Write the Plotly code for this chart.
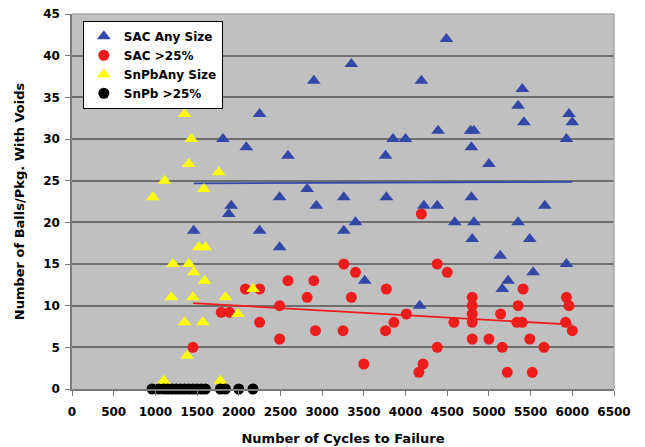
import numpy as np
import plotly.graph_objects as go

# ---- data ----
sac_any_x = [1460, 1880, 1910, 1810, 2090, 2250, 2250, 2490, 2490, 2590,
             2820, 2900, 2930, 3260, 3260, 3350, 3400, 3510, 3760, 3770,
             3850, 4000, 4170, 4190, 4220, 4380, 4390, 4490, 4590, 4780,
             4820, 4790, 4790, 4820, 4800, 5000, 5135, 5160, 5230, 5350,
             5350, 5400, 5420, 5490, 5530, 5670, 5930, 5930, 5960, 6000]
sac_any_y = [19, 21, 22, 30, 29, 33, 19, 23, 17, 28,
             24, 37, 22, 23, 19, 39, 20, 13, 28, 23,
             30, 30, 10, 37, 22, 22, 31, 42, 20, 31,
             31, 29, 23, 20, 18, 27, 16, 12, 13, 34,
             20, 36, 32, 18, 14, 22, 30, 15, 33, 32]

sac_25_x = [1450, 1790, 1890, 2080, 2250, 2250, 2490, 2490, 2590, 2820,
            2900, 2920, 3250, 3260, 3350, 3400, 3500, 3760, 3770, 3860,
            4010, 4160, 4190, 4210, 4380, 4380, 4500, 4580, 4800, 4800,
            4800, 4800, 4800, 5000, 5140, 5160, 5220, 5335, 5400, 5350,
            5410, 5490, 5520, 5660, 5920, 5930, 5960, 6000]
sac_25_y = [5, 9.2, 9.2, 12, 12, 8, 10, 6, 13, 11,
            13, 7, 7, 15, 11, 14, 3, 7, 12, 8,
            9, 2, 21, 3, 15, 5, 14, 8, 11, 10,
            9, 8, 6, 6, 9, 5, 2, 8, 8, 10,
            12, 6, 2, 5, 8, 11, 10, 7]

snpb_any_x = [970, 1100, 1110, 1190, 1210, 1350, 1350, 1380, 1400, 1400,
              1430, 1450, 1460, 1520, 1570, 1580, 1590, 1600, 1760, 1780,
              1840, 1990, 2170]
snpb_any_y = [23, 1, 25, 11, 15, 33, 8, 4, 27, 15,
              30, 11, 14, 17, 8, 24, 13, 17, 26, 1,
              11, 9, 12]

snpb_25_x = [960, 1040, 1100, 1150, 1200, 1250, 1300, 1350, 1400, 1450,
             1500, 1550, 1600, 1780, 1840, 2000, 2170]
snpb_25_y = [0] * len(snpb_25_x)

x_ticks = list(range(0, 6501, 500))
y_ticks = list(range(0, 46, 5))

series_names = ["SAC Any Size", "SAC >25%", "SnPbAny Size", "SnPb >25%"]

BLUE = "#3347a8"
RED = "#ee1c1c"
YELLOW = "#ffff00"
BLACK = "#000000"
FONT = "DejaVu Sans"


def trend(xs, ys):
    xs = np.asarray(xs, float)
    ys = np.asarray(ys, float)
    m, b = np.polyfit(xs, ys, 1)
    xx = np.array([xs.min(), xs.max()])
    return xx, m * xx + b


fig = go.Figure()

tx, ty = trend(sac_any_x, sac_any_y)
fig.add_trace(go.Scatter(x=tx, y=ty, mode="lines", line=dict(color=BLUE, width=1.8),
                         showlegend=False, hoverinfo="skip"))
tx, ty = trend(sac_25_x, sac_25_y)
fig.add_trace(go.Scatter(x=tx, y=ty, mode="lines", line=dict(color=RED, width=1.8),
                         showlegend=False, hoverinfo="skip"))

fig.add_trace(go.Scatter(x=sac_any_x, y=sac_any_y, mode="markers", name=series_names[0],
                         marker=dict(symbol="triangle-up", size=12, color=BLUE, line=dict(width=0))))
fig.add_trace(go.Scatter(x=sac_25_x, y=sac_25_y, mode="markers", name=series_names[1],
                         marker=dict(symbol="circle", size=11, color=RED, line=dict(width=0))))
fig.add_trace(go.Scatter(x=snpb_any_x, y=snpb_any_y, mode="markers", name=series_names[2],
                         marker=dict(symbol="triangle-up", size=12, color=YELLOW, line=dict(width=0))))
fig.add_trace(go.Scatter(x=snpb_25_x, y=snpb_25_y, mode="markers", name=series_names[3],
                         marker=dict(symbol="circle", size=11, color=BLACK, line=dict(width=0)),
                         cliponaxis=False))

fig.update_layout(
    width=645, height=447,
    margin=dict(l=72, r=31, t=14, b=58, autoexpand=False),
    paper_bgcolor="white",
    plot_bgcolor="#c0c0c0",
    font=dict(family=FONT, size=12, color="black", weight="bold"),
    showlegend=True,
    legend=dict(x=0.02, y=0.982, xanchor="left", yanchor="top",
                bgcolor="white", bordercolor="black", borderwidth=1,
                font=dict(family=FONT, size=12, color="black", weight="bold"),
                itemwidth=30, tracegroupgap=0),
)

fig.update_xaxes(range=[0, 6500], tickvals=x_ticks, ticktext=[str(v) for v in x_ticks],
                 tickangle=0, showgrid=False, zeroline=False, automargin=False,
                 showline=True, linecolor="#7a7a7a", linewidth=1.5,
                 ticks="outside", ticklen=5, tickcolor="#7a7a7a", ticklabelstandoff=6,
                 tickfont=dict(family=FONT, size=12, weight="bold"),
                 title=dict(text="Number of Cycles to Failure", standoff=16,
                            font=dict(family=FONT, size=13, weight="bold")))
fig.update_yaxes(range=[0, 45], tickvals=y_ticks, ticktext=[str(v) for v in y_ticks],
                 showgrid=True, gridcolor="#6e6e6e", gridwidth=1.5, zeroline=False,
                 automargin=False,
                 showline=True, linecolor="#7a7a7a", linewidth=1.5,
                 ticks="outside", ticklen=5, tickcolor="#7a7a7a", ticklabelstandoff=3,
                 tickfont=dict(family=FONT, size=12, weight="bold"),
                 title=dict(text="Number of Balls/Pkg. With Voids", standoff=16,
                            font=dict(family=FONT, size=13, weight="bold")))

# light plot-area border on top and right
fig.add_shape(type="line", xref="paper", yref="paper", x0=0, x1=1, y0=1, y1=1,
              line=dict(color="#a9a9a9", width=1.5), layer="above")
fig.add_shape(type="line", xref="paper", yref="paper", x0=1, x1=1, y0=0, y1=1,
              line=dict(color="#a9a9a9", width=1.5), layer="above")

fig.write_html("out.html", config={"displayModeBar": False},
               post_script="document.body.style.margin='0px';")
